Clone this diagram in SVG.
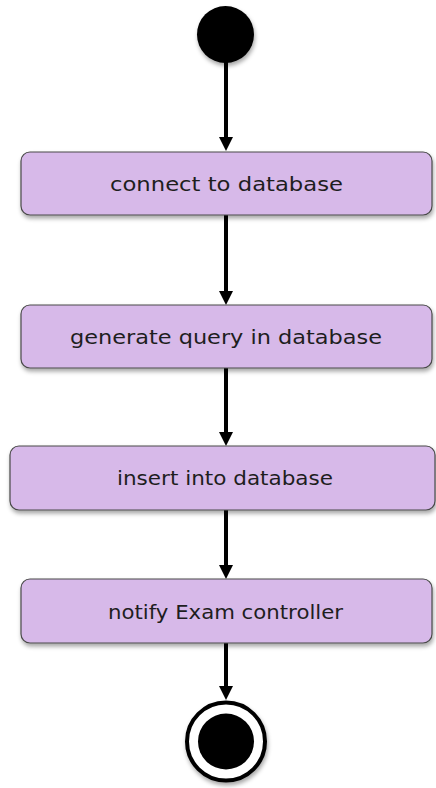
<svg xmlns="http://www.w3.org/2000/svg" width="436" height="788" viewBox="0 0 436 788">
<style>
.box{fill:#d7b9e9;stroke:#4a4a4a;stroke-width:1.2}
.lbl{font-family:"DejaVu Sans","Liberation Sans",sans-serif;font-size:20px;fill:#1e1e1e;text-anchor:middle}
.edge{stroke:#000;stroke-width:4;fill:none}
.head{fill:#000}
</style>
<defs>
<filter id="sh" x="-20%" y="-20%" width="140%" height="150%">
<feDropShadow dx="1" dy="3" stdDeviation="2" flood-color="#000" flood-opacity="0.35"/>
</filter>
</defs>
<g id="start">
<circle cx="225.5" cy="34.5" r="28.5" fill="#000" filter="url(#sh)"/>
</g>
<g id="connectors">
<line class="edge" x1="226" y1="62" x2="226" y2="137"/>
<path class="head" d="M219,137 L233,137 L226,151 Z"/>
<line class="edge" x1="226" y1="215" x2="226" y2="291"/>
<path class="head" d="M219,291 L233,291 L226,305 Z"/>
<line class="edge" x1="226" y1="368" x2="226" y2="432"/>
<path class="head" d="M219,432 L233,432 L226,446 Z"/>
<line class="edge" x1="226" y1="510" x2="226" y2="565"/>
<path class="head" d="M219,565 L233,565 L226,579 Z"/>
<line class="edge" x1="226" y1="643" x2="226" y2="686"/>
<path class="head" d="M219,686 L233,686 L226,700 Z"/>
</g>
<g id="n1">
<rect class="box" x="21" y="152" width="411" height="63" rx="9" filter="url(#sh)"/>
<text class="lbl" x="226.5" y="191" textLength="233" lengthAdjust="spacingAndGlyphs">connect to database</text>
</g>
<g id="n2">
<rect class="box" x="21" y="305" width="411" height="63" rx="9" filter="url(#sh)"/>
<text class="lbl" x="226" y="344" textLength="312" lengthAdjust="spacingAndGlyphs">generate query in database</text>
</g>
<g id="n3">
<rect class="box" x="10" y="446" width="425" height="64" rx="9" filter="url(#sh)"/>
<text class="lbl" x="225" y="485" textLength="216" lengthAdjust="spacingAndGlyphs">insert into database</text>
</g>
<g id="n4">
<rect class="box" x="21" y="579" width="411" height="64" rx="9" filter="url(#sh)"/>
<text class="lbl" x="225.5" y="619" textLength="235" lengthAdjust="spacingAndGlyphs">notify Exam controller</text>
</g>
<g id="end">
<circle cx="226" cy="741.5" r="39" fill="#fff" stroke="#000" stroke-width="4" filter="url(#sh)"/>
<circle cx="226" cy="741.5" r="28" fill="#000"/>
</g>
</svg>
